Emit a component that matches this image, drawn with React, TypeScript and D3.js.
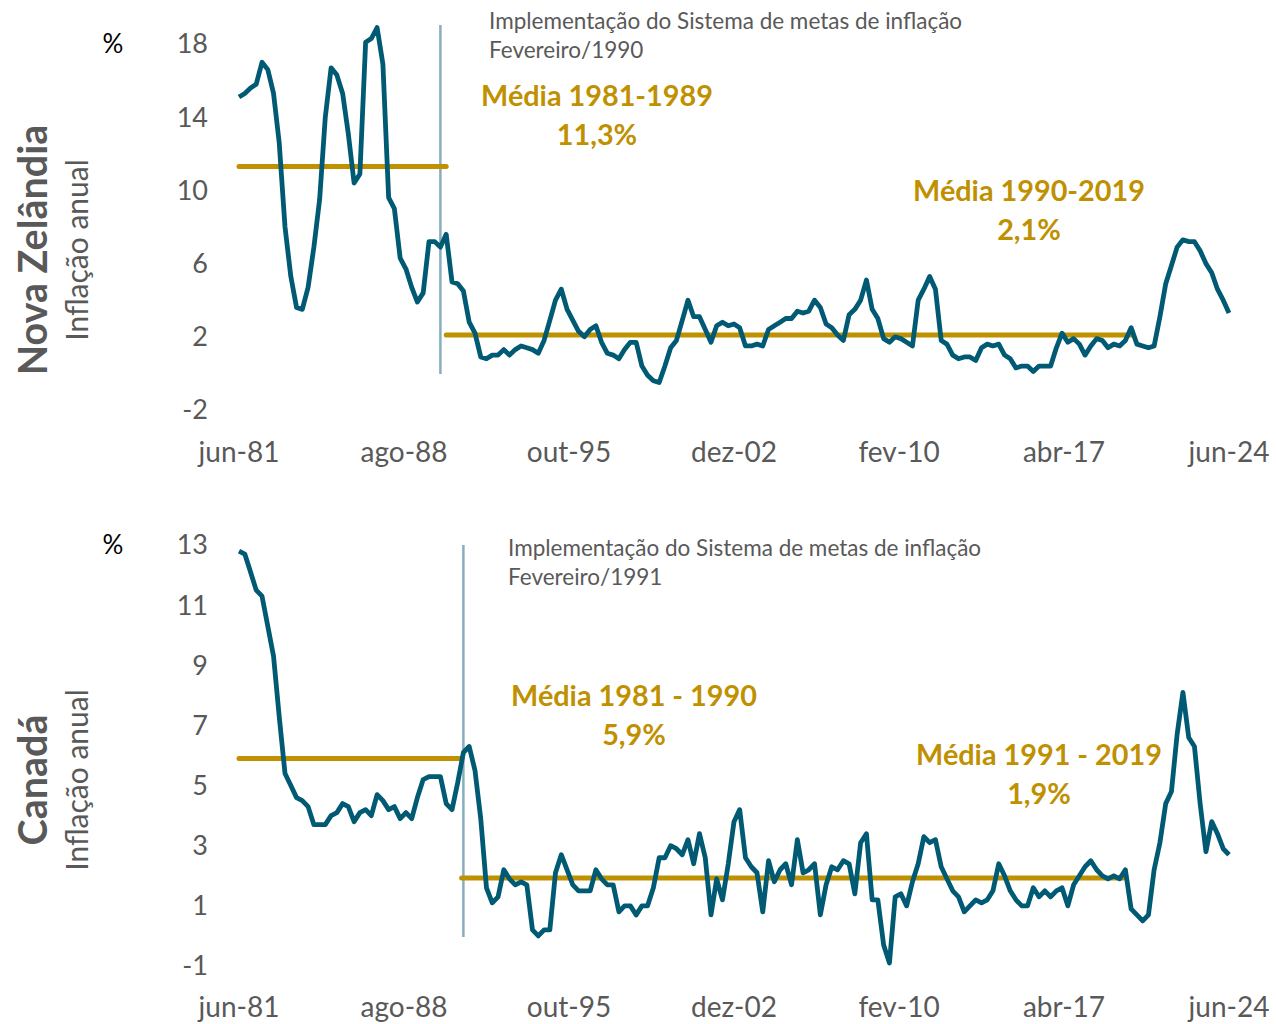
import React from "react";
import * as d3 from "d3";

// Quarterly dates, jun-81 .. jun-24
const quarters = d3.timeMonth.range(new Date(1981, 5, 1), new Date(2024, 6, 1), 3);

const xTickDates = [
  new Date(1981, 5, 1),
  new Date(1988, 7, 1),
  new Date(1995, 9, 1),
  new Date(2002, 11, 1),
  new Date(2010, 1, 1),
  new Date(2017, 3, 1),
  new Date(2024, 5, 1),
];
const xTickLabels = ["jun-81", "ago-88", "out-95", "dez-02", "fev-10", "abr-17", "jun-24"];

// Nova Zelândia - inflação anual (%), trimestral
const nzInflation = [
  15.1, 15.3, 15.6, 15.8, 17.0, 16.6, 15.3, 12.6, 8.0, 5.3, 3.6, 3.5, 4.7, 6.9, 9.5, 14.0,
  16.7, 16.3, 15.3, 13.1, 10.4, 10.9, 18.1, 18.3, 18.9, 16.9, 9.6, 9.0, 6.3, 5.7, 4.7, 3.9,
  4.4, 7.2, 7.2, 6.9, 7.6, 5.0, 4.9, 4.5, 2.8, 2.2, 0.9, 0.8, 1.0, 1.0, 1.3, 1.0,
  1.3, 1.5, 1.4, 1.3, 1.1, 1.8, 2.9, 4.0, 4.6, 3.5, 2.9, 2.3, 2.0, 2.4, 2.6, 1.7,
  1.1, 1.0, 0.8, 1.3, 1.7, 1.7, 0.4, -0.1, -0.4, -0.5, 0.4, 1.4, 1.8, 2.9, 4.0, 3.1,
  3.1, 2.4, 1.7, 2.6, 2.8, 2.6, 2.7, 2.5, 1.5, 1.5, 1.6, 1.5, 2.4, 2.6, 2.8, 3.0,
  3.0, 3.4, 3.3, 3.4, 4.0, 3.6, 2.7, 2.5, 2.1, 1.8, 3.2, 3.5, 4.0, 5.1, 3.5, 3.0,
  1.9, 1.7, 2.0, 1.9, 1.7, 1.5, 4.0, 4.6, 5.3, 4.6, 1.8, 1.6, 1.0, 0.8, 0.9, 0.9,
  0.7, 1.4, 1.6, 1.5, 1.6, 1.0, 0.8, 0.3, 0.4, 0.4, 0.1, 0.4, 0.4, 0.4, 1.4, 2.2,
  1.7, 1.9, 1.6, 1.0, 1.5, 1.9, 1.8, 1.4, 1.6, 1.5, 1.8, 2.5, 1.6, 1.5, 1.4, 1.5,
  3.1, 4.9, 5.9, 6.9, 7.3, 7.2, 7.2, 6.7, 6.0, 5.5, 4.6, 4.0, 3.3,
];

// Canadá - inflação anual (%), trimestral
const caInflation = [
  12.8, 12.7, 12.1, 11.5, 11.3, 10.3, 9.3, 7.3, 5.4, 5.0, 4.6, 4.5, 4.3, 3.7, 3.7, 3.7,
  4.0, 4.1, 4.4, 4.3, 3.8, 4.1, 4.2, 4.0, 4.7, 4.5, 4.2, 4.3, 3.9, 4.1, 3.9, 4.6,
  5.2, 5.3, 5.3, 5.3, 4.4, 4.2, 5.1, 6.1, 6.3, 5.5, 3.9, 1.6, 1.1, 1.3, 2.2, 1.9,
  1.7, 1.8, 1.7, 0.2, 0.0, 0.2, 0.2, 2.1, 2.7, 2.2, 1.7, 1.5, 1.5, 1.5, 2.2, 1.9,
  1.7, 1.7, 0.8, 1.0, 1.0, 0.7, 1.0, 1.0, 1.6, 2.6, 2.6, 3.0, 2.9, 2.7, 3.2, 2.4,
  3.4, 2.6, 0.7, 1.9, 1.2, 2.4, 3.8, 4.2, 2.6, 2.3, 2.1, 0.8, 2.5, 1.8, 2.2, 2.4,
  1.7, 3.2, 2.1, 2.2, 2.4, 0.7, 1.7, 2.3, 2.2, 2.5, 2.4, 1.4, 3.1, 3.4, 1.2, 1.2,
  -0.3, -0.9, 1.3, 1.4, 1.0, 1.8, 2.4, 3.3, 3.1, 3.2, 2.3, 1.9, 1.5, 1.3, 0.8, 1.0,
  1.2, 1.1, 1.2, 1.5, 2.4, 2.0, 1.5, 1.2, 1.0, 1.0, 1.6, 1.3, 1.5, 1.3, 1.5, 1.6,
  1.0, 1.7, 2.0, 2.3, 2.5, 2.2, 2.0, 1.9, 2.0, 1.9, 2.2, 0.9, 0.7, 0.5, 0.7, 2.2,
  3.1, 4.4, 4.8, 6.7, 8.1, 6.6, 6.3, 4.4, 2.8, 3.8, 3.4, 2.9, 2.7,
];

const nzYTicks = [-2, 2, 6, 10, 14, 18];
const caYTicks = [-1, 1, 3, 5, 7, 9, 11, 13];

// Médias (valor, início, fim)
const nzAverages = [
  { value: 11.3, from: new Date(1981, 5, 1), to: new Date(1990, 5, 1) },
  { value: 2.1, from: new Date(1990, 5, 1), to: new Date(2020, 3, 1) },
];
const caAverages = [
  { value: 5.9, from: new Date(1981, 5, 1), to: new Date(1991, 1, 1) },
  { value: 1.93, from: new Date(1991, 1, 1), to: new Date(2019, 10, 1) },
];

const LINE = "#005a73";
const GOLD = "#bf9000";
const VLINE = "#86aebe";
const GREY = "#595959";
const FONT = "Lato, 'Noto Sans', sans-serif";

type Label = { lines: string[]; x: number; y: number };

type PanelProps = {
  data: number[];
  yTicks: number[];
  yTop: number;
  yBottom: number;
  averages: { value: number; from: Date; to: Date }[];
  vDate: Date;
  vTop: number;
  vBottom: number;
  noteX: number;
  noteY: number;
  noteDate: string;
  country: string;
  titleY: number;
  xLabelY: number;
  avgLabels: Label[];
};

const xScale = d3
  .scaleTime()
  .domain([new Date(1981, 5, 1), new Date(2024, 5, 1)])
  .range([239, 1229]);

const Panel = (p: PanelProps) => {
  const yScale = d3
    .scaleLinear()
    .domain([p.yTicks[0], p.yTicks[p.yTicks.length - 1]])
    .range([p.yBottom, p.yTop]);

  const lineGen = d3
    .line<number>()
    .x((_, i) => xScale(quarters[i]))
    .y((d) => yScale(d));

  return (
    <g>
      {/* rótulo do eixo */}
      <text x={113} y={yScale(p.yTicks[p.yTicks.length - 1])} dy="0.35em" textAnchor="middle"
        fontSize={26} fill="#000">%</text>
      {p.yTicks.map((t) => (
        <text key={t} x={208} y={yScale(t)} dy="0.35em" textAnchor="end" fontSize={27} fill={GREY}>
          {t}
        </text>
      ))}
      {xTickDates.map((d, i) => (
        <text key={i} x={xScale(d)} y={p.xLabelY} textAnchor="middle" fontSize={28} fill={GREY}>
          {xTickLabels[i]}
        </text>
      ))}

      <text transform={`translate(47, ${p.titleY}) rotate(-90)`} textAnchor="middle"
        fontSize={39.5} fontWeight="bold" fill={GREY}>{p.country}</text>
      <text transform={`translate(88, ${p.titleY}) rotate(-90)`} textAnchor="middle"
        fontSize={30} fill={GREY}>Inflação anual</text>

      {/* linha vertical: implementação das metas */}
      <line x1={xScale(p.vDate)} x2={xScale(p.vDate)} y1={p.vTop} y2={p.vBottom}
        stroke={VLINE} strokeWidth={2.5} />
      <text x={p.noteX} y={p.noteY} fontSize={22.5} fill={GREY}>
        Implementação do Sistema de metas de inflação
      </text>
      <text x={p.noteX} y={p.noteY + 29} fontSize={22.5} fill={GREY}>{p.noteDate}</text>

      {p.averages.map((a, i) => (
        <line key={i} x1={xScale(a.from)} x2={xScale(a.to)} y1={yScale(a.value)} y2={yScale(a.value)}
          stroke={GOLD} strokeWidth={5} strokeLinecap="round" />
      ))}

      <path d={lineGen(p.data) ?? ""} fill="none" stroke={LINE} strokeWidth={4.8}
        strokeLinejoin="round" />

      {p.avgLabels.map((l, i) => (
        <g key={i}>
          {l.lines.map((s, j) => (
            <text key={j} x={l.x} y={l.y + j * 39} textAnchor="middle" fontSize={28.8}
              fontWeight="bold" fill={GOLD}>{s}</text>
          ))}
        </g>
      ))}
    </g>
  );
};

const App = () => {
  return (
    <svg width={1276} height={1024} fontFamily={FONT}
      style={{ position: "absolute", left: 0, top: 0, background: "#fff" }}>
      <Panel
        data={nzInflation}
        yTicks={nzYTicks}
        yTop={44}
        yBottom={410}
        averages={nzAverages}
        vDate={new Date(1990, 2, 1)}
        vTop={25}
        vBottom={374}
        noteX={489}
        noteY={29}
        noteDate="Fevereiro/1990"
        country="Nova Zelândia"
        titleY={250}
        xLabelY={462}
        avgLabels={[
          { lines: ["Média 1981-1989", "11,3%"], x: 597, y: 106 },
          { lines: ["Média 1990-2019", "2,1%"], x: 1029, y: 201 },
        ]}
      />
      <Panel
        data={caInflation}
        yTicks={caYTicks}
        yTop={545}
        yBottom={966}
        averages={caAverages}
        vDate={new Date(1991, 2, 1)}
        vTop={545}
        vBottom={937}
        noteX={508}
        noteY={556}
        noteDate="Fevereiro/1991"
        country="Canadá"
        titleY={780}
        xLabelY={1017}
        avgLabels={[
          { lines: ["Média 1981 - 1990", "5,9%"], x: 634, y: 706 },
          { lines: ["Média 1991 - 2019", "1,9%"], x: 1039, y: 765 },
        ]}
      />
    </svg>
  );
};

export default App;
